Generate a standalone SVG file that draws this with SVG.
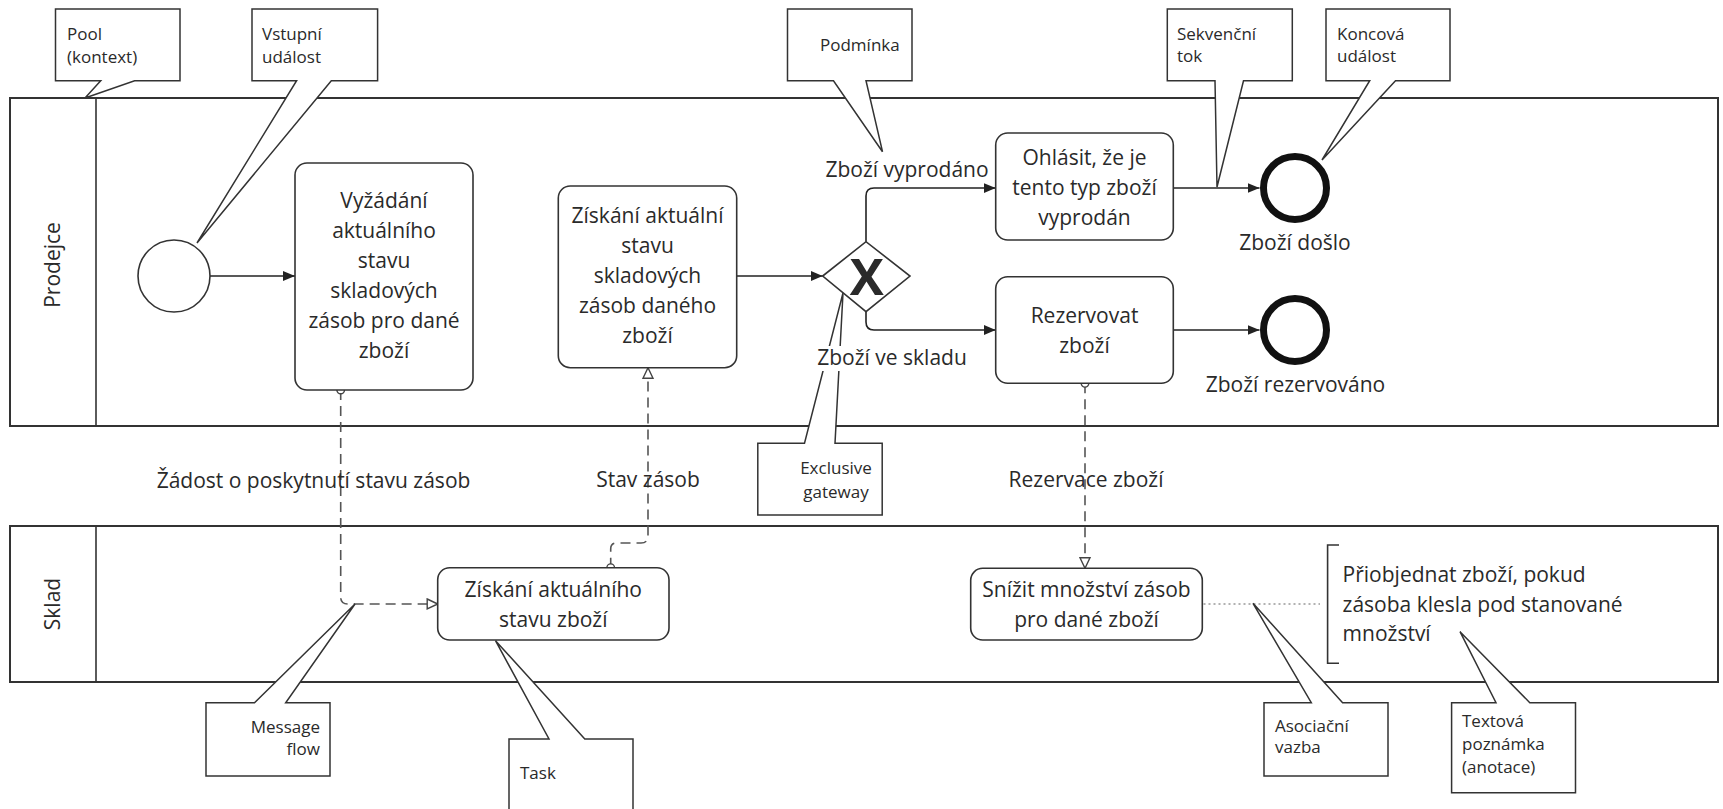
<svg xmlns="http://www.w3.org/2000/svg" width="1723" height="809" viewBox="0 0 1723 809">
  <style>
    .pool { fill: #fff; stroke: #333; stroke-width: 2; }
    .sep { stroke: #333; stroke-width: 1.6; }
    .task { fill: #fff; stroke: #333; stroke-width: 1.6; }
    .seq { fill: none; stroke: #222; stroke-width: 1.6; marker-end: url(#arrow); }
    .msg { fill: none; stroke: #555; stroke-width: 1.6; stroke-dasharray: 10 6; marker-start: url(#msgStart); marker-end: url(#msgEnd); }
    .assoc { fill: none; stroke: #999; stroke-width: 1.6; stroke-dasharray: 2 3; }
    .callout { fill: #fff; stroke: #333; stroke-width: 1.5; stroke-linejoin: miter; }
    text { font-family: "Open Sans", "DejaVu Sans", sans-serif; fill: #2a2a2a; }
    .t { font-size: 21px; }
    .m { text-anchor: middle; }
    .c { font-size: 17px; }
    .e { text-anchor: end; }
  </style>
  <defs>
    <marker id="arrow" viewBox="0 0 12 10" refX="12" refY="5" markerWidth="12" markerHeight="10" markerUnits="userSpaceOnUse" orient="auto">
      <path d="M0,0 L12,5 L0,10 Z" fill="#222"/>
    </marker>
    <marker id="msgEnd" viewBox="0 0 13 13" refX="12" refY="6.5" markerWidth="13" markerHeight="13" markerUnits="userSpaceOnUse" orient="auto">
      <path d="M1.5,1.5 L12,6.5 L1.5,11.5 Z" fill="#fff" stroke="#444" stroke-width="1.4" stroke-dasharray="none"/>
    </marker>
    <marker id="msgStart" viewBox="0 0 10 10" refX="5" refY="5" markerWidth="10" markerHeight="10" markerUnits="userSpaceOnUse" orient="auto">
      <circle cx="5" cy="5" r="3.8" fill="#fff" stroke="#444" stroke-width="1.4"/>
    </marker>
  </defs>

  <rect width="1723" height="809" fill="#fff"/>

  <!-- Pools and lanes -->
  <g id="pool-prodejce">
    <rect class="pool" x="10" y="98" width="1708" height="328"/>
    <line class="sep" x1="96" y1="98" x2="96" y2="426"/>
    <text class="t m" transform="translate(60,265) rotate(-90)">Prodejce</text>
  </g>
  <g id="pool-sklad">
    <rect class="pool" x="10" y="526" width="1708" height="156"/>
    <line class="sep" x1="96" y1="526" x2="96" y2="682"/>
    <text class="t m" transform="translate(60,604) rotate(-90)">Sklad</text>
  </g>

  <!-- Connectors -->
  <g id="connectors">
    <path class="seq" d="M210,276 H295"/>
    <path class="seq" d="M736.7,276 H822.7"/>
    <path class="seq" d="M866,241.7 V196 Q866,188 874,188 H995.7"/>
    <path class="seq" d="M866,311.7 V322 Q866,330 874,330 H995.7"/>
    <path class="seq" d="M1173.3,188 H1259.5"/>
    <path class="seq" d="M1173.3,330 H1259.5"/>
    <path class="msg" d="M340.7,390 V597 Q340.7,604 347.7,604 H437.7"/>
    <path class="msg" d="M610.7,567.7 V549 Q610.7,543 616.7,543 H641 Q648,543 648,536 V367.7"/>
    <path class="msg" d="M1085,383.3 V568.3"/>
    <path class="assoc" d="M1203.5,604 H1320"/>
  </g>

  <!-- Prodejce flow nodes -->
  <g id="start-event">
    <circle cx="174" cy="276" r="36" fill="#fff" stroke="#333" stroke-width="1.6"/>
  </g>
  <g id="task-vyzadani">
    <rect class="task" x="295" y="163" width="178" height="227" rx="12"/>
    <text class="t m" x="384" y="208">Vyžádání</text>
    <text class="t m" x="384" y="238">aktuálního</text>
    <text class="t m" x="384" y="268">stavu</text>
    <text class="t m" x="384" y="298">skladových</text>
    <text class="t m" x="384" y="328">zásob pro dané</text>
    <text class="t m" x="384" y="358">zboží</text>
  </g>
  <g id="task-ziskani-zasob">
    <rect class="task" x="558.3" y="186" width="178.4" height="181.7" rx="12"/>
    <text class="t m" x="647.5" y="223">Získání aktuální</text>
    <text class="t m" x="647.5" y="253">stavu</text>
    <text class="t m" x="647.5" y="283">skladových</text>
    <text class="t m" x="647.5" y="313">zásob daného</text>
    <text class="t m" x="647.5" y="343">zboží</text>
  </g>
  <g id="gateway">
    <polygon points="822.7,276 866,241.7 910,276 866,311.7" fill="#fff" stroke="#333" stroke-width="1.6"/>
    <text x="866.7" y="295" text-anchor="middle" font-size="51" font-weight="bold" fill="#111">X</text>
  </g>
  <g id="task-ohlasit">
    <rect class="task" x="995.7" y="133" width="177.6" height="107" rx="12"/>
    <text class="t m" x="1084.5" y="165">Ohlásit, že je</text>
    <text class="t m" x="1084.5" y="195">tento typ zboží</text>
    <text class="t m" x="1084.5" y="225">vyprodán</text>
  </g>
  <g id="task-rezervovat">
    <rect class="task" x="995.7" y="276.7" width="177.6" height="106.6" rx="12"/>
    <text class="t m" x="1084.5" y="323">Rezervovat</text>
    <text class="t m" x="1084.5" y="353">zboží</text>
  </g>
  <g id="end-doslo">
    <circle cx="1295" cy="188" r="31.5" fill="#fff" stroke="#111" stroke-width="7"/>
    <text class="t m" x="1295" y="250">Zboží došlo</text>
  </g>
  <g id="end-rezervovano">
    <circle cx="1295" cy="330" r="31.5" fill="#fff" stroke="#111" stroke-width="7"/>
    <text class="t m" x="1295.5" y="392">Zboží rezervováno</text>
  </g>

  <!-- Sklad nodes -->
  <g id="task-ziskani-stavu">
    <rect class="task" x="437.7" y="567.7" width="231.3" height="72.3" rx="12"/>
    <text class="t m" x="553.3" y="597">Získání aktuálního</text>
    <text class="t m" x="553.3" y="627">stavu zboží</text>
  </g>
  <g id="task-snizit">
    <rect class="task" x="970.7" y="568.3" width="231.6" height="71.7" rx="12"/>
    <text class="t m" x="1086.5" y="597">Snížit množství zásob</text>
    <text class="t m" x="1086.5" y="627">pro dané zboží</text>
  </g>
  <g id="annotation">
    <path d="M1339,545 H1327.6 V663.3 H1339" fill="none" stroke="#333" stroke-width="1.6"/>
    <text class="t" x="1342.6" y="582">Přiobjednat zboží, pokud</text>
    <text class="t" x="1342.6" y="612">zásoba klesla pod stanované</text>
    <text class="t" x="1342.6" y="641">množství</text>
  </g>

  <!-- Flow labels -->
  <g id="flow-labels">
    <text class="t m" x="907" y="177">Zboží vyprodáno</text>
    <text class="t m" x="313.5" y="488">Žádost o poskytnutí stavu zásob</text>
    <text class="t m" x="648" y="487">Stav zásob</text>
    <text class="t m" x="1086" y="487">Rezervace zboží</text>
  </g>

  <!-- Explanatory callouts -->
  <g id="callout-pool">
    <path class="callout" d="M55.5,9 H180 V80.7 H134.6 L85,98 L100.7,80.7 H55.5 Z"/>
    <text class="c" x="67" y="40">Pool</text>
    <text class="c" x="67" y="63">(kontext)</text>
  </g>
  <g id="callout-vstupni">
    <path class="callout" d="M252,9 H377.6 V80.7 H331.3 L197,243 L296.6,80.7 H252 Z"/>
    <text class="c" x="262" y="40">Vstupní</text>
    <text class="c" x="262" y="63">událost</text>
  </g>
  <g id="callout-podminka">
    <path class="callout" d="M787.5,9 H912 V80.7 H866 L882.5,151.7 L833.5,80.7 H787.5 Z"/>
    <text class="c" x="820" y="51">Podmínka</text>
  </g>
  <g id="callout-sekvencni">
    <path class="callout" d="M1167.3,9 H1292.3 V80.7 H1243.5 L1217,187 L1215,80.7 H1167.3 Z"/>
    <text class="c" x="1177" y="40">Sekvenční</text>
    <text class="c" x="1177" y="62">tok</text>
  </g>
  <g id="callout-koncova">
    <path class="callout" d="M1326,9 H1450 V80.7 H1395.5 L1322,160 L1369.7,80.7 H1326 Z"/>
    <text class="c" x="1337" y="40">Koncová</text>
    <text class="c" x="1337" y="62">událost</text>
  </g>
  <g id="callout-gateway">
    <path class="callout" d="M757.8,443.3 H804.5 L843,293 L835,443.3 H882.2 V515 H757.8 Z"/>
    <text class="c m" x="836" y="474">Exclusive</text>
    <text class="c m" x="836" y="498">gateway</text>
  </g>
  <g id="callout-message">
    <path class="callout" d="M206,702.7 H254.5 L355,604 L285.7,702.7 H330 V776 H206 Z"/>
    <text class="c e" x="320" y="733">Message</text>
    <text class="c e" x="320" y="755">flow</text>
  </g>
  <g id="callout-task">
    <path class="callout" d="M509,739 H549 L495.5,640.7 L584.8,739 H633 V812 H509 Z"/>
    <text class="c" x="520" y="779">Task</text>
  </g>
  <g id="callout-asociacni">
    <path class="callout" d="M1264,702.7 H1311.3 L1253,603.3 L1342.6,702.7 H1388 V776 H1264 Z"/>
    <text class="c" x="1275" y="732">Asociační</text>
    <text class="c" x="1275" y="753">vazba</text>
  </g>
  <g id="callout-textova">
    <path class="callout" d="M1451.6,702.7 H1496 L1460,631.7 L1529.8,702.7 H1575.5 V792.7 H1451.6 Z"/>
    <text class="c" x="1462" y="727">Textová</text>
    <text class="c" x="1462" y="750">poznámka</text>
    <text class="c" x="1462" y="773">(anotace)</text>
  </g>

  <!-- Condition label drawn over the gateway callout -->
  <g id="label-ve-skladu">
    <rect x="814" y="346" width="157" height="25" fill="#fff"/>
    <text class="t m" x="892" y="365">Zboží ve skladu</text>
  </g>
</svg>
